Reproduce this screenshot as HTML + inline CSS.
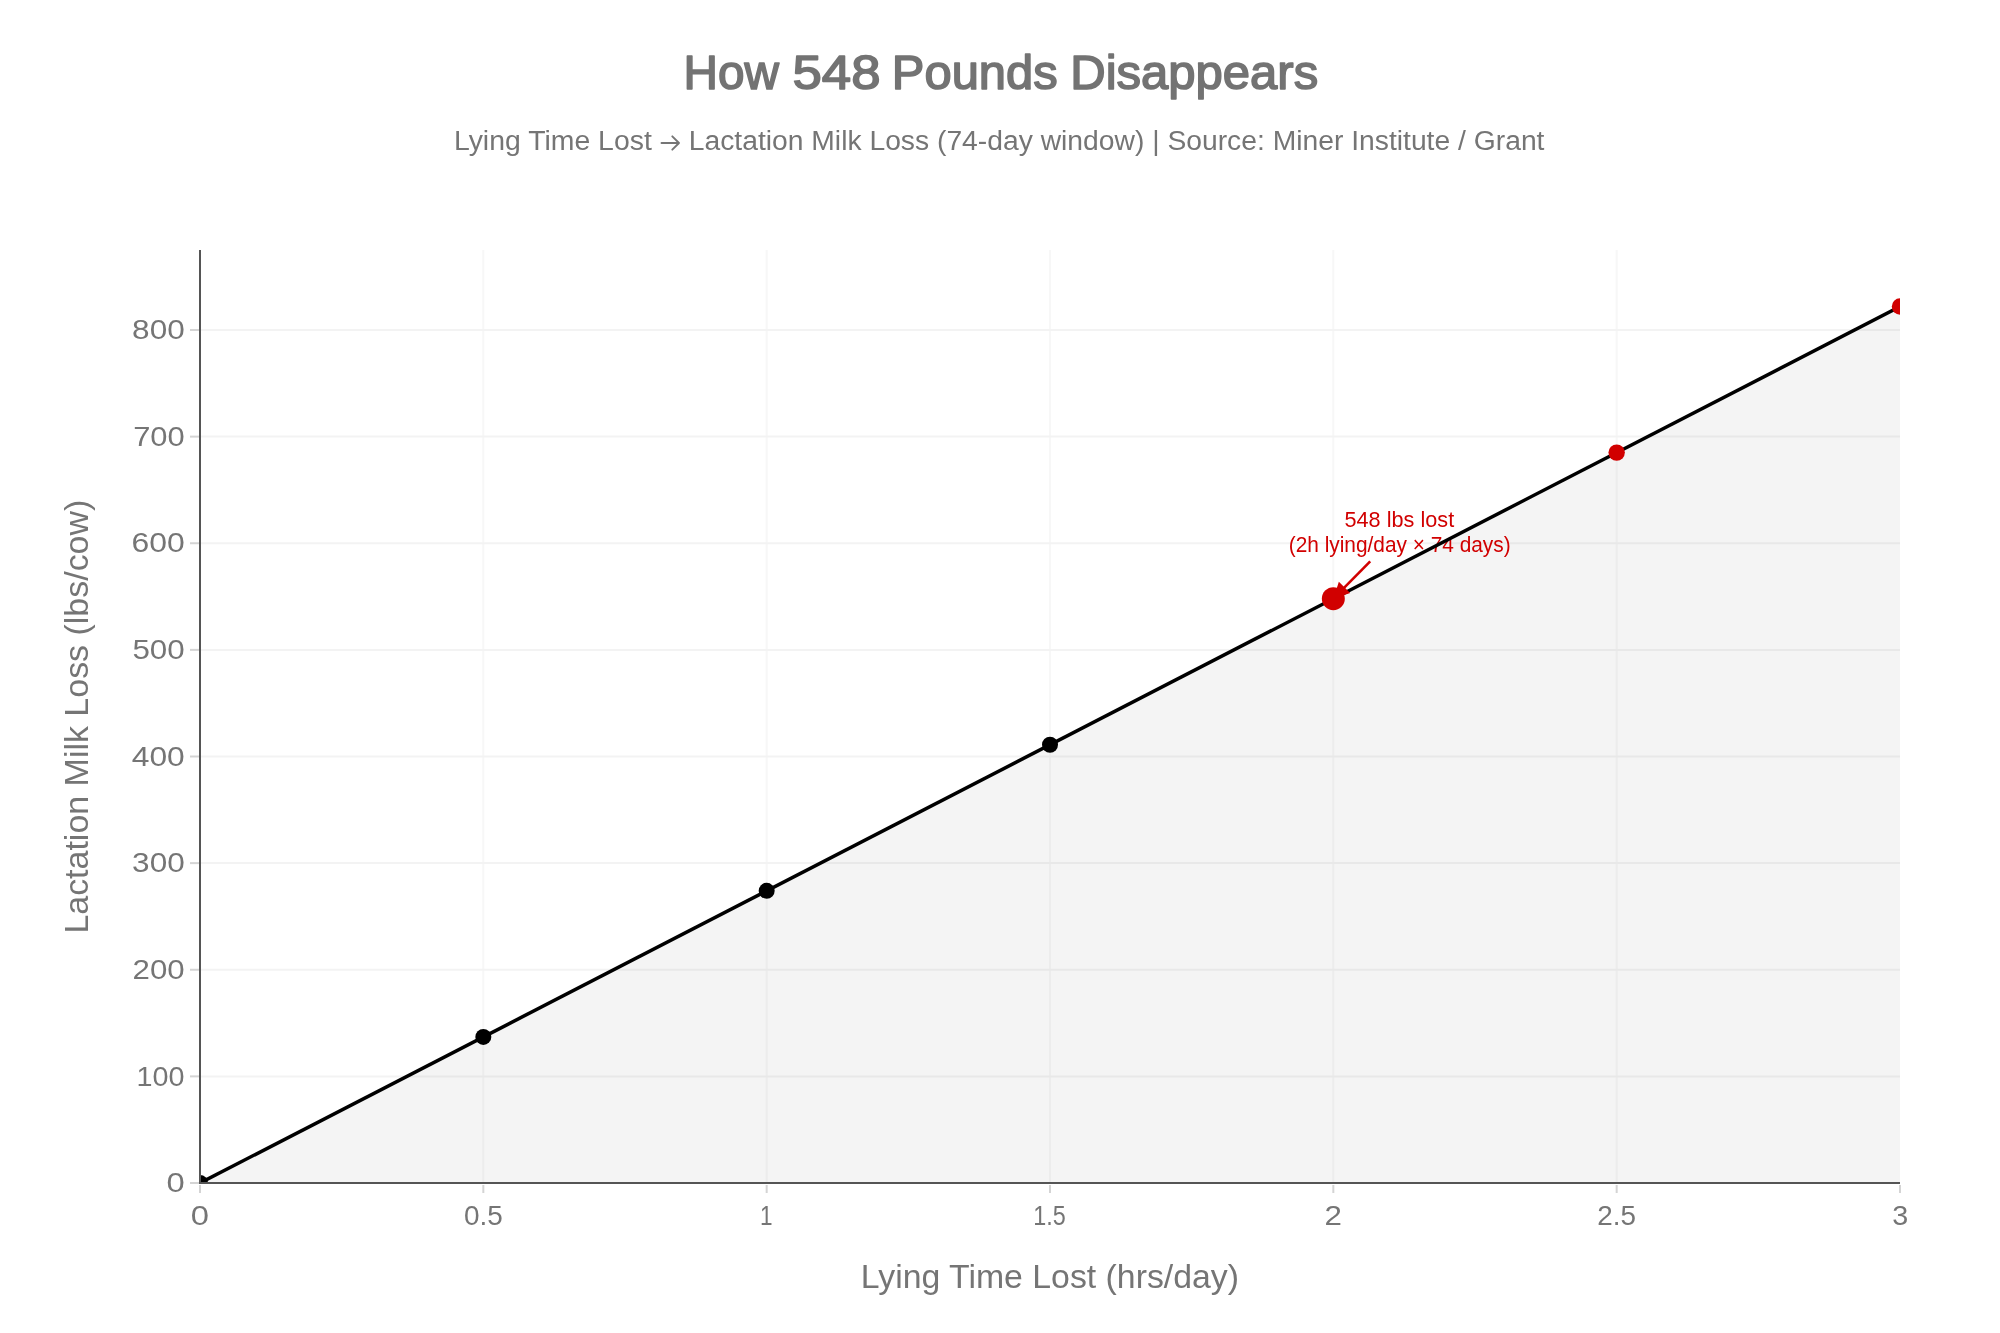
<!DOCTYPE html>
<html><head><meta charset="utf-8"><style>html,body{margin:0;padding:0;background:#fff;width:2000px;height:1333px;overflow:hidden}svg{display:block;will-change:transform;font-family:"Liberation Sans",sans-serif}</style></head><body>
<svg width="2000" height="1333" viewBox="0 0 2000 1333">
<defs><clipPath id="pc"><rect x="200" y="250" width="1700" height="933"/></clipPath></defs>
<rect width="2000" height="1333" fill="#fff"/>
<line x1="483.33" y1="250" x2="483.33" y2="1183" stroke="#f7f7f7" stroke-width="2"/>
<line x1="766.67" y1="250" x2="766.67" y2="1183" stroke="#f7f7f7" stroke-width="2"/>
<line x1="1050.00" y1="250" x2="1050.00" y2="1183" stroke="#f7f7f7" stroke-width="2"/>
<line x1="1333.33" y1="250" x2="1333.33" y2="1183" stroke="#f7f7f7" stroke-width="2"/>
<line x1="1616.67" y1="250" x2="1616.67" y2="1183" stroke="#f7f7f7" stroke-width="2"/>
<line x1="200" y1="1076.38" x2="1900" y2="1076.38" stroke="#f3f3f3" stroke-width="2"/>
<line x1="200" y1="969.75" x2="1900" y2="969.75" stroke="#f3f3f3" stroke-width="2"/>
<line x1="200" y1="863.12" x2="1900" y2="863.12" stroke="#f3f3f3" stroke-width="2"/>
<line x1="200" y1="756.50" x2="1900" y2="756.50" stroke="#f3f3f3" stroke-width="2"/>
<line x1="200" y1="649.88" x2="1900" y2="649.88" stroke="#f3f3f3" stroke-width="2"/>
<line x1="200" y1="543.25" x2="1900" y2="543.25" stroke="#f3f3f3" stroke-width="2"/>
<line x1="200" y1="436.62" x2="1900" y2="436.62" stroke="#f3f3f3" stroke-width="2"/>
<line x1="200" y1="330.00" x2="1900" y2="330.00" stroke="#f3f3f3" stroke-width="2"/>
<polygon points="200,1183 1900,306.54 1900,1183" fill="rgba(0,0,0,0.045)"/>
<text x="1344.53" y="526.60" font-size="21.50" font-weight="normal" textLength="109.65" lengthAdjust="spacingAndGlyphs" fill="#d10000">548 lbs lost</text>
<text x="1288.75" y="552.10" font-size="21.50" font-weight="normal" textLength="221.91" lengthAdjust="spacingAndGlyphs" fill="#d10000">(2h lying/day × 74 days)</text>
<line x1="190" y1="1183.00" x2="200" y2="1183.00" stroke="#d4d4d4" stroke-width="2"/>
<line x1="190" y1="1076.38" x2="200" y2="1076.38" stroke="#d4d4d4" stroke-width="2"/>
<line x1="190" y1="969.75" x2="200" y2="969.75" stroke="#d4d4d4" stroke-width="2"/>
<line x1="190" y1="863.12" x2="200" y2="863.12" stroke="#d4d4d4" stroke-width="2"/>
<line x1="190" y1="756.50" x2="200" y2="756.50" stroke="#d4d4d4" stroke-width="2"/>
<line x1="190" y1="649.88" x2="200" y2="649.88" stroke="#d4d4d4" stroke-width="2"/>
<line x1="190" y1="543.25" x2="200" y2="543.25" stroke="#d4d4d4" stroke-width="2"/>
<line x1="190" y1="436.62" x2="200" y2="436.62" stroke="#d4d4d4" stroke-width="2"/>
<line x1="190" y1="330.00" x2="200" y2="330.00" stroke="#d4d4d4" stroke-width="2"/>
<line x1="200.00" y1="1185" x2="200.00" y2="1193" stroke="#d4d4d4" stroke-width="2"/>
<line x1="483.33" y1="1185" x2="483.33" y2="1193" stroke="#d4d4d4" stroke-width="2"/>
<line x1="766.67" y1="1185" x2="766.67" y2="1193" stroke="#d4d4d4" stroke-width="2"/>
<line x1="1050.00" y1="1185" x2="1050.00" y2="1193" stroke="#d4d4d4" stroke-width="2"/>
<line x1="1333.33" y1="1185" x2="1333.33" y2="1193" stroke="#d4d4d4" stroke-width="2"/>
<line x1="1616.67" y1="1185" x2="1616.67" y2="1193" stroke="#d4d4d4" stroke-width="2"/>
<line x1="1900.00" y1="1185" x2="1900.00" y2="1193" stroke="#d4d4d4" stroke-width="2"/>
<g clip-path="url(#pc)">
<line x1="200" y1="1183" x2="1900" y2="306.54" stroke="#000" stroke-width="3.5"/>
<circle cx="200.00" cy="1183.00" r="8" fill="#000"/>
<circle cx="483.33" cy="1036.92" r="8" fill="#000"/>
<circle cx="766.67" cy="890.85" r="8" fill="#000"/>
<circle cx="1050.00" cy="744.77" r="8" fill="#000"/>
<circle cx="1333.33" cy="598.70" r="11.5" fill="#d10000"/>
<circle cx="1616.67" cy="452.62" r="8.2" fill="#d10000"/>
<circle cx="1900.00" cy="306.54" r="8.2" fill="#d10000"/>
</g>
<line x1="200" y1="250" x2="200" y2="1184" stroke="#555555" stroke-width="2"/>
<line x1="199" y1="1183" x2="1900" y2="1183" stroke="#555555" stroke-width="2"/>
<line x1="1370.2" y1="561.4" x2="1342.28" y2="589.65" stroke="#d10000" stroke-width="2.6"/>
<path d="M-5,-2.5V2.5L0,0Z" fill="#d10000" transform="translate(1333.33,598.70) rotate(134.67) scale(3.18)"/>
<text x="166.49" y="1192.20" font-size="26.80" font-weight="normal" textLength="18.19" lengthAdjust="spacingAndGlyphs" fill="#757575">0</text>
<text x="136.60" y="1085.58" font-size="26.80" font-weight="normal" textLength="48.01" lengthAdjust="spacingAndGlyphs" fill="#757575">100</text>
<text x="132.64" y="978.95" font-size="26.80" font-weight="normal" textLength="52.06" lengthAdjust="spacingAndGlyphs" fill="#757575">200</text>
<text x="132.14" y="872.33" font-size="26.80" font-weight="normal" textLength="52.58" lengthAdjust="spacingAndGlyphs" fill="#757575">300</text>
<text x="131.77" y="765.70" font-size="26.80" font-weight="normal" textLength="52.96" lengthAdjust="spacingAndGlyphs" fill="#757575">400</text>
<text x="132.45" y="659.08" font-size="26.80" font-weight="normal" textLength="52.26" lengthAdjust="spacingAndGlyphs" fill="#757575">500</text>
<text x="131.51" y="552.45" font-size="26.80" font-weight="normal" textLength="53.23" lengthAdjust="spacingAndGlyphs" fill="#757575">600</text>
<text x="133.16" y="445.82" font-size="26.80" font-weight="normal" textLength="51.54" lengthAdjust="spacingAndGlyphs" fill="#757575">700</text>
<text x="132.14" y="339.20" font-size="26.80" font-weight="normal" textLength="52.58" lengthAdjust="spacingAndGlyphs" fill="#757575">800</text>
<text x="190.89" y="1224.80" font-size="26.80" font-weight="normal" textLength="18.19" lengthAdjust="spacingAndGlyphs" fill="#757575">0</text>
<text x="464.08" y="1224.80" font-size="26.80" font-weight="normal" textLength="38.84" lengthAdjust="spacingAndGlyphs" fill="#757575">0.5</text>
<text x="760.00" y="1224.80" font-size="26.80" font-weight="normal" textLength="12.55" lengthAdjust="spacingAndGlyphs" fill="#757575">1</text>
<text x="1033.23" y="1224.80" font-size="26.80" font-weight="normal" textLength="32.51" lengthAdjust="spacingAndGlyphs" fill="#757575">1.5</text>
<text x="1324.63" y="1224.80" font-size="26.80" font-weight="normal" textLength="17.41" lengthAdjust="spacingAndGlyphs" fill="#757575">2</text>
<text x="1597.21" y="1224.80" font-size="26.80" font-weight="normal" textLength="38.71" lengthAdjust="spacingAndGlyphs" fill="#757575">2.5</text>
<text x="1892.15" y="1224.80" font-size="26.80" font-weight="normal" textLength="15.98" lengthAdjust="spacingAndGlyphs" fill="#757575">3</text>
<text x="683.48" y="88.85" font-size="48.04" font-weight="normal" textLength="95.45" lengthAdjust="spacingAndGlyphs" fill="#737373" stroke="#737373" stroke-width="1.6" stroke-linejoin="round">How</text>
<text x="792.49" y="88.85" font-size="48.04" font-weight="normal" textLength="87.97" lengthAdjust="spacingAndGlyphs" fill="#737373" stroke="#737373" stroke-width="1.6" stroke-linejoin="round">548</text>
<text x="891.89" y="88.85" font-size="48.04" font-weight="normal" textLength="165.76" lengthAdjust="spacingAndGlyphs" fill="#737373" stroke="#737373" stroke-width="1.6" stroke-linejoin="round">Pounds</text>
<text x="1070.28" y="88.85" font-size="48.04" font-weight="normal" textLength="247.89" lengthAdjust="spacingAndGlyphs" fill="#737373" stroke="#737373" stroke-width="1.6" stroke-linejoin="round">Disappears</text>
<text x="453.93" y="149.90" font-size="27.39" font-weight="normal" textLength="197.85" lengthAdjust="spacingAndGlyphs" fill="#757575">Lying Time Lost</text>
<text x="688.74" y="149.90" font-size="27.39" font-weight="normal" textLength="855.73" lengthAdjust="spacingAndGlyphs" fill="#757575">Lactation Milk Loss (74-day window) | Source: Miner Institute / Grant</text>
<path d="M661.5,143H679M672.3,136.3L679,143L672.3,149.7" fill="none" stroke="#757575" stroke-width="1.9" stroke-linecap="round" stroke-linejoin="round"/>
<text x="860.70" y="1287.90" font-size="33.77" font-weight="normal" textLength="378.32" lengthAdjust="spacingAndGlyphs" fill="#757575">Lying Time Lost (hrs/day)</text>
<g transform="translate(88.1,0) rotate(-90)"><text x="-933.62" y="0.00" font-size="33.48" font-weight="normal" textLength="433.93" lengthAdjust="spacingAndGlyphs" fill="#757575">Lactation Milk Loss (lbs/cow)</text></g>
</svg></body></html>
